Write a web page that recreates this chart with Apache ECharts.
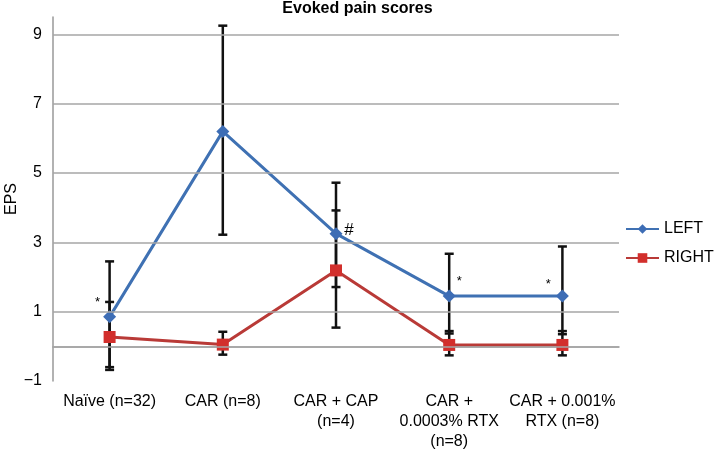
<!DOCTYPE html>
<html><head><meta charset="utf-8">
<script src="https://cdn.jsdelivr.net/npm/echarts@6/dist/echarts.min.js"></script>
<style>html,body{margin:0;padding:0;background:#fff}#c{width:715px;height:451px}</style>
</head><body><div id="c"></div>
<script>
const categories = ['Naïve (n=32)', 'CAR (n=8)', 'CAR + CAP\n(n=4)', 'CAR +\n0.0003% RTX\n(n=8)', 'CAR + 0.001%\nRTX (n=8)'];
const leftValues = [0.85, 6.2, 3.25, 1.45, 1.45];
const rightValues = [0.27, 0.05, 2.19, 0.04, 0.04];
const leftErrHigh = [2.45, 9.25, 4.72, 2.67, 2.88];
const leftErrLow = [-0.68, 3.22, 1.71, 0.37, 0.35];
const rightErrHigh = [1.28, 0.42, 3.92, 0.44, 0.44];
const rightErrLow = [-0.6, -0.24, 0.54, -0.26, -0.26];
const leftMarks = ['*', '', '#', '*', '*'];
const yLabelValues = [-1, 1, 3, 5, 7, 9];
const gridValues = [0, 1, 3, 5, 7, 9];

const FONT = 'Liberation Sans, Arial, sans-serif';
const markOffsets = [[-12, -14], [0, 0], [13, -3], [10, -15], [-14, -12]];
const markSizes = [13, 13, 17, 13, 13];

const chart = echarts.init(document.getElementById('c'));

const errData = [];
for (let i = 0; i < categories.length; i++) {
  errData.push([i, leftErrLow[i], leftErrHigh[i]]);
  errData.push([i, rightErrLow[i], rightErrHigh[i]]);
}

const leftData = leftValues.map((v, i) => ({
  value: v,
  label: {
    show: leftMarks[i] !== '',
    formatter: leftMarks[i],
    position: 'inside',
    offset: markOffsets[i],
    color: '#000',
    fontSize: markSizes[i],
    fontFamily: FONT
  }
}));

chart.setOption({
  animation: false,
  title: {
    text: 'Evoked pain scores',
    left: 'center',
    top: -4,
    textStyle: { fontSize: 16, fontWeight: 'bold', color: '#000', fontFamily: FONT }
  },
  legend: {
    orient: 'vertical',
    left: 620,
    top: 216,
    itemWidth: 33,
    itemHeight: 12,
    itemGap: 13,
    textStyle: { fontSize: 16, color: '#000', fontFamily: FONT },
    data: ['LEFT', 'RIGHT']
  },
  grid: { left: 53, right: 96, top: 17, bottom: 70, containLabel: false, outerBoundsMode: 'none' },
  xAxis: {
    type: 'category',
    data: categories,
    boundaryGap: true,
    axisLine: { show: true, lineStyle: { color: '#999', width: 1.5 } },
    axisTick: { show: false },
    axisLabel: { interval: 0, fontSize: 16, color: '#000', fontFamily: FONT, lineHeight: 20, margin: 11 },
    splitLine: { show: false }
  },
  yAxis: {
    type: 'value',
    min: -1,
    max: 9.5,
    interval: 1,
    name: 'EPS',
    nameLocation: 'middle',
    nameGap: 33,
    nameMoveOverlap: false,
    nameRotate: 90,
    nameTextStyle: { fontSize: 16, color: '#000', fontFamily: FONT },
    axisLine: { show: true, lineStyle: { color: '#999', width: 1.5 } },
    axisTick: { show: false },
    splitLine: { show: false },
    axisLabel: {
      fontSize: 16, color: '#000', fontFamily: FONT, margin: 11,
      formatter: v => yLabelValues.includes(v) ? (v < 0 ? '\u2212' + Math.abs(v) : String(v)) : ''
    }
  },
  series: [
    {
      name: 'grid',
      type: 'line',
      data: [],
      z: 0,
      silent: true,
      markLine: {
        silent: true,
        symbol: ['none', 'none'],
        label: { show: false },
        lineStyle: { color: '#A6A6A6', type: 'solid', width: 1.5 },
        data: gridValues.map(v => ({ yAxis: v }))
      }
    },
    {
      name: 'err',
      type: 'custom',
      z: 1,
      silent: true,
      encode: { x: 0, y: [1, 2] },
      data: errData,
      renderItem: function (params, api) {
        const x = api.value(0);
        const p1 = api.coord([x, api.value(2)]);
        const p2 = api.coord([x, api.value(1)]);
        const w = 4.5;
        const st = { stroke: '#111', lineWidth: 2.5 };
        return {
          type: 'group',
          children: [
            { type: 'line', shape: { x1: p1[0], y1: p1[1], x2: p2[0], y2: p2[1] }, style: st },
            { type: 'line', shape: { x1: p1[0] - w, y1: p1[1], x2: p1[0] + w, y2: p1[1] }, style: st },
            { type: 'line', shape: { x1: p2[0] - w, y1: p2[1], x2: p2[0] + w, y2: p2[1] }, style: st }
          ]
        };
      }
    },
    {
      name: 'LEFT',
      type: 'line',
      z: 3,
      data: leftData,
      symbol: 'diamond',
      symbolSize: 13,
      lineStyle: { color: '#3F71B3', width: 3 },
      itemStyle: { color: '#3D6DB5' }
    },
    {
      name: 'RIGHT',
      type: 'line',
      z: 2,
      data: rightValues,
      symbol: 'rect',
      symbolSize: 12,
      lineStyle: { color: '#B93A37', width: 3 },
      itemStyle: { color: '#D22F2C' }
    }
  ]
});
</script>
</body></html>
